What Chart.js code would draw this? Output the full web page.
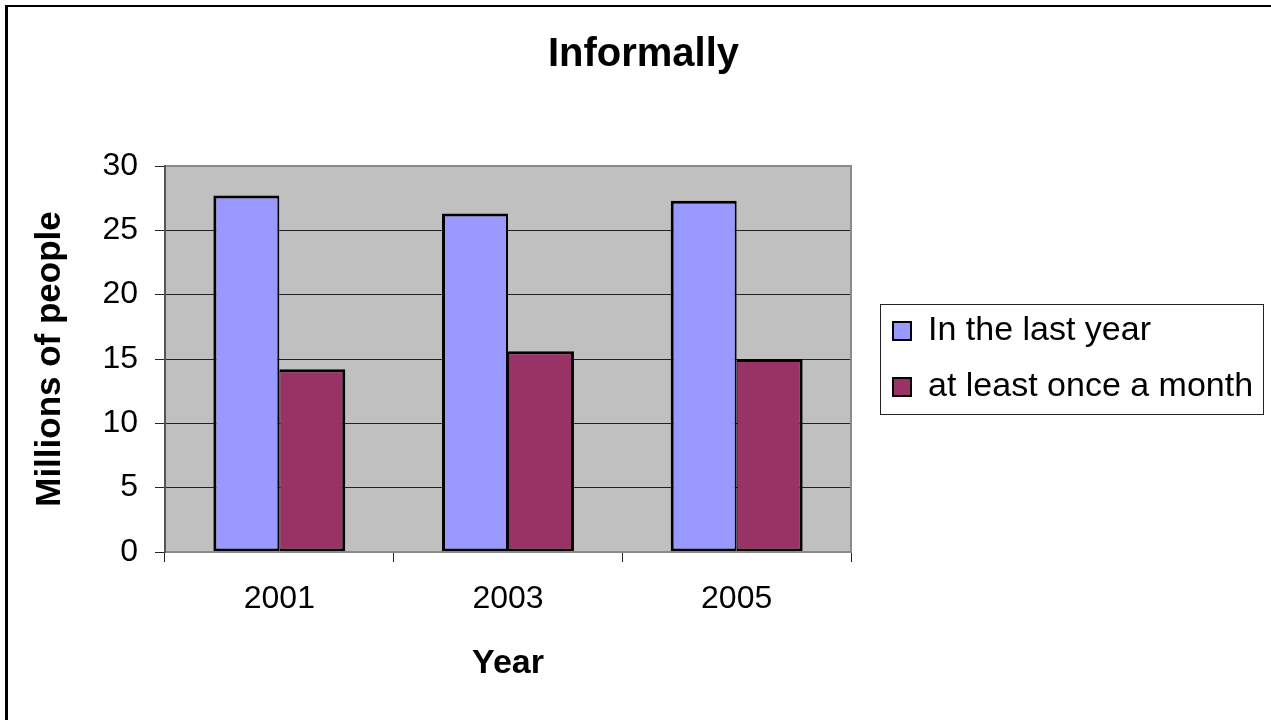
<!DOCTYPE html>
<html>
<head>
<meta charset="utf-8">
<script src="https://cdn.jsdelivr.net/npm/chart.js@4.4.1/dist/chart.umd.min.js"></script>
<style>
  html, body { margin: 0; padding: 0; background: #fff; }
  canvas { display: block; }
</style>
</head>
<body>
<canvas id="c" width="1271" height="720"></canvas>
<script>
// Survey data: millions of people volunteering informally
const years = ['2001', '2003', '2005'];
const lastYear = [27.7, 26.3, 27.3];
const onceAMonth = [14.2, 15.6, 15.0];
const seriesNames = ['In the last year', 'at least once a month'];
const yTicks = [0, 5, 10, 15, 20, 25, 30];

const FONT = '"Liberation Sans", Arial, Helvetica, sans-serif';
const LEGEND_WIDTH = 420;   // space reserved for the legend column
const LEGEND_INSET = 20;    // gap between plot edge and legend panel

const frame = {
  id: 'frame',
  beforeInit(chart) {
    const legend = chart.legend;
    const fit = legend.fit;
    legend.fit = function () {
      fit.call(this);
      this.width = LEGEND_WIDTH;
    };
  },
  afterLayout(chart) {
    chart.legend.left += LEGEND_INSET;
    chart.legend.right += LEGEND_INSET;
  },
  beforeDraw(chart) {
    const { ctx, chartArea: a } = chart;
    ctx.save();
    ctx.fillStyle = '#c0c0c0';
    ctx.fillRect(a.left, a.top, a.width, a.height);
    ctx.restore();
  },
  afterDatasetsDraw(chart) {
    const { ctx, chartArea: a } = chart;
    ctx.save();
    ctx.lineWidth = 2;
    ctx.strokeStyle = '#8a8a8a';
    ctx.beginPath();
    ctx.moveTo(a.left, a.top);
    ctx.lineTo(a.right, a.top);
    ctx.lineTo(a.right, a.bottom);
    ctx.lineTo(a.left, a.bottom);
    ctx.stroke();
    ctx.strokeStyle = '#555';
    ctx.beginPath();
    ctx.moveTo(a.left, a.top - 1);
    ctx.lineTo(a.left, a.bottom + 1);
    ctx.stroke();
    ctx.restore();
  },
  afterDraw(chart) {
    const { ctx } = chart;
    const hb = chart.legend.legendHitBoxes || [];
    ctx.save();
    if (hb.length) {
      const l = Math.min(...hb.map(h => h.left)) - 13;
      const r = Math.max(...hb.map(h => h.left + h.width)) + 10;
      const t = Math.min(...hb.map(h => h.top)) - 10;
      const b = Math.max(...hb.map(h => h.top + h.height)) + 10;
      ctx.strokeStyle = '#222';
      ctx.lineWidth = 1;
      ctx.strokeRect(Math.round(l) + 0.5, Math.round(t) + 0.5, Math.round(r - l), Math.round(b - t));
    }
    // outer frame of the chart sheet
    ctx.fillStyle = '#000';
    ctx.fillRect(5, 5, 3, chart.height);
    ctx.fillRect(5, 5, chart.width, 2);
    ctx.restore();
  }
};

new Chart(document.getElementById('c'), {
  type: 'bar',
  data: {
    labels: years,
    datasets: [
      {
        label: seriesNames[0],
        data: lastYear,
        backgroundColor: '#9999ff',
        borderColor: '#000',
        borderWidth: { top: 3, left: 3, bottom: 3, right: 2 },
        borderSkipped: false
      },
      {
        label: seriesNames[1],
        data: onceAMonth,
        backgroundColor: '#993366',
        borderColor: '#000',
        borderWidth: { top: 3, left: 1, bottom: 3, right: 3 },
        borderSkipped: false
      }
    ]
  },
  options: {
    responsive: false,
    animation: false,
    events: [],
    datasets: { bar: { categoryPercentage: 0.577, barPercentage: 1 } },
    layout: { padding: { left: 16, right: 0, top: 0, bottom: 0 } },
    plugins: {
      title: {
        display: true,
        text: 'Informally',
        color: '#000',
        font: { family: FONT, size: 40, weight: 'bold' },
        padding: { top: 31, bottom: 87 }
      },
      legend: {
        position: 'right',
        fullSize: false,
        align: 'center',
        labels: {
          color: '#000',
          font: { family: FONT, size: 34 },
          boxWidth: 18,
          boxHeight: 18,
          padding: 22,
          generateLabels(chart) {
            return chart.data.datasets.map((ds, i) => ({
              text: ds.label,
              fillStyle: ds.backgroundColor,
              strokeStyle: '#000',
              lineWidth: 2,
              hidden: false,
              datasetIndex: i
            }));
          }
        }
      },
      tooltip: { enabled: false }
    },
    scales: {
      x: {
        grid: {
          display: true,
          offset: true,
          drawOnChartArea: false,
          drawTicks: true,
          tickLength: 10,
          color: '#222',
          lineWidth: 1
        },
        border: { display: false },
        ticks: {
          color: '#000',
          font: { family: FONT, size: 32 },
          padding: 18,
          maxRotation: 0
        },
        title: {
          display: true,
          text: 'Year',
          color: '#000',
          font: { family: FONT, size: 34, weight: 'bold' },
          padding: { top: 0, bottom: 36 }
        },
        afterFit(scale) { scale.height = 168; }
      },
      y: {
        min: yTicks[0],
        max: yTicks[yTicks.length - 1],
        ticks: {
          stepSize: yTicks[1] - yTicks[0],
          color: '#000',
          font: { family: FONT, size: 32 },
          padding: 17
        },
        grid: {
          color: '#222',
          lineWidth: 1,
          drawTicks: true,
          tickLength: 10
        },
        border: { display: false },
        title: {
          display: true,
          text: 'Millions of people',
          color: '#000',
          font: { family: FONT, size: 35, weight: 'bold' },
          padding: { top: 13, bottom: 0 }
        },
        afterFit(scale) { scale.width = 149; }
      }
    }
  },
  plugins: [frame]
});
</script>
</body>
</html>
